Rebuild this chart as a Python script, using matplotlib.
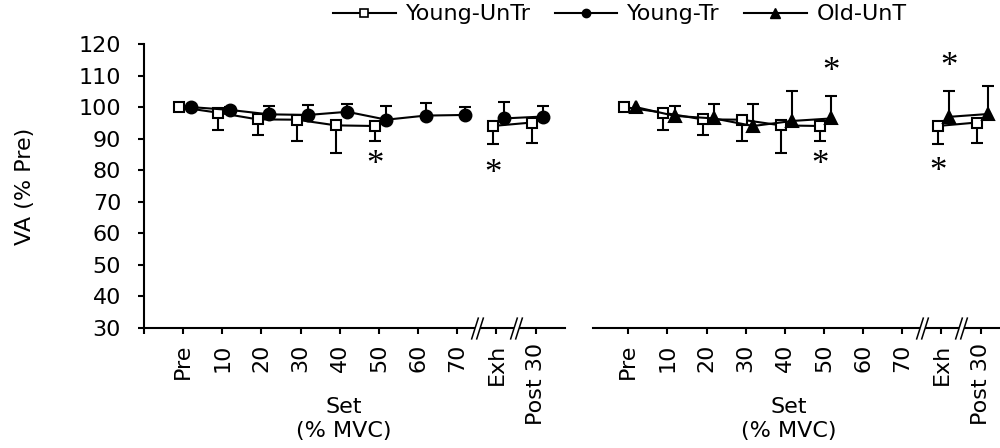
import matplotlib
matplotlib.use('Agg')
import matplotlib.pyplot as plt
import numpy as np
from matplotlib.lines import Line2D
from matplotlib.path import Path
from matplotlib.transforms import blended_transform_factory

plt.rcParams['font.family'] = ['DejaVu Sans']
plt.rcParams['font.size'] = 16

nan = np.nan
cats = ['Pre', '10', '20', '30', '40', '50', '60', '70', 'Exh', 'Post 30']
yticks = [30, 40, 50, 60, 70, 80, 90, 100, 110, 120]

# VA in % of Pre, mean and SD (SD drawn one side only)
young_untr = [100, 98.2, 96.1, 96.0, 94.2, 94.0, nan, nan, 94.0, 95.1]
young_untr_sd = [nan, 5.5, 5.0, 6.9, 8.7, 4.8, nan, nan, 5.7, 6.4]
young_tr = [100, 99.1, 97.7, 97.5, 98.5, 96.0, 97.3, 97.5, 96.4, 97.0]
young_tr_sd = [nan, 0.8, 2.6, 3.2, 2.6, 4.2, 3.9, 2.4, 5.1, 3.4]
old_unt = [100, 97.2, 96.4, 94.0, 95.6, 96.4, nan, nan, 96.9, 97.8]
old_unt_sd = [nan, 3.0, 4.5, 7.0, 9.4, 7.1, nan, nan, 8.1, 8.9]

# significance marks: (category, series, height)
stars_left = [('50', 'untr', 81.5), ('Exh', 'untr', 78.6)]
stars_right = [('50', 'old', 111.0), ('50', 'untr', 81.5),
               ('Exh', 'old', 112.6), ('Exh', 'untr', 79.2)]

offs = {'untr': -0.1, 'tr': 0.19, 'old': 0.19}
LW = 1.5


def draw_series(ax, vals, sd, off, marker, face, ms, up):
    x = np.arange(1, len(cats) + 1) + off
    y = np.array(vals, float)
    e = np.array(sd, float)
    end = y + e if up else y - e
    ax.vlines(x, y, end, color='k', lw=LW, zorder=2)
    ax.plot(x, end, ls='none', marker='_', ms=9, mew=LW, color='k', zorder=2)
    # sets and post-exercise points are not joined
    for sl in (slice(0, 8), slice(8, 10)):
        ax.plot(x[sl], y[sl], color='k', lw=LW, marker=marker, mfc=face,
                mec='k', ms=ms, mew=LW, zorder=3)


slash = Path([(-6, -11), (1, 11), (-1, -11), (6, 11)],
             [Path.MOVETO, Path.LINETO, Path.MOVETO, Path.LINETO])


def axis_break(ax, xc):
    ax.plot([xc], [30], marker='s', ms=3.6, mew=0, color='white',
            clip_on=False, zorder=5)
    ax.plot([xc], [30], marker=slash, ms=16, mew=1.1, color='k',
            fillstyle='none', clip_on=False, zorder=6)


def setup(ax, left):
    ax.set_ylim(30, 120)
    for s in ['top', 'right']:
        ax.spines[s].set_visible(False)
    ax.spines['bottom'].set_linewidth(LW)
    ax.spines['left'].set_linewidth(LW)
    if left:
        ax.set_xlim(0, 10.75)
        ax.set_xticks(range(0, 11))
        ax.set_xticklabels([''] + cats, rotation=90)
        ax.set_yticks(yticks)
        ax.tick_params(axis='y', direction='out', length=4.5, width=LW, pad=12)
    else:
        ax.set_xlim(0.1, 10.75)
        ax.set_xticks(range(1, 11))
        ax.set_xticklabels(cats, rotation=90)
        ax.spines['left'].set_visible(False)
        ax.set_yticks([])
    ax.tick_params(axis='x', direction='out', length=4.5, width=LW, pad=6.5)
    axis_break(ax, 8.5)
    axis_break(ax, 9.5)
    tr = blended_transform_factory(ax.transData, fig.transFigure)
    ax.text(5.1, 0.065, 'Set\n(% MVC)', transform=tr, ha='center',
            va='center', linespacing=1.25)


fig = plt.figure(figsize=(10, 4.48), dpi=100)
ax1 = fig.add_axes([0.144, 0.2679, 0.421, 0.634])
ax2 = fig.add_axes([0.593, 0.2679, 0.417, 0.634])
setup(ax1, True)
setup(ax2, False)

draw_series(ax1, young_untr, young_untr_sd, offs['untr'], 's', 'white', 7.5, False)
draw_series(ax1, young_tr, young_tr_sd, offs['tr'], 'o', 'k', 8.5, True)
draw_series(ax2, young_untr, young_untr_sd, offs['untr'], 's', 'white', 7.5, False)
draw_series(ax2, old_unt, old_unt_sd, offs['old'], '^', 'k', 9, True)

for ax, stars in ((ax1, stars_left), (ax2, stars_right)):
    for cat, grp, yv in stars:
        ax.text(cats.index(cat) + 1 + offs[grp], yv, '*', ha='center',
                va='center', fontsize=25, family='Liberation Serif')

fig.text(0.025, 0.585, 'VA (% Pre)', rotation=90, ha='center', va='center')

handles = [
    Line2D([], [], color='k', lw=LW, marker='s', mfc='white', mec='k', ms=5.5, mew=1.2),
    Line2D([], [], color='k', lw=LW, marker='o', mfc='k', mec='k', ms=6),
    Line2D([], [], color='k', lw=LW, marker='^', mfc='k', mec='k', ms=6.5),
]
fig.legend(handles, ['Young-UnTr', 'Young-Tr', 'Old-UnT'], loc='center',
           bbox_to_anchor=(0.62, 0.968), ncol=3, frameon=False,
           handlelength=2.8, handletextpad=0.45, columnspacing=1.1)

fig.savefig('out.png', dpi=100)
